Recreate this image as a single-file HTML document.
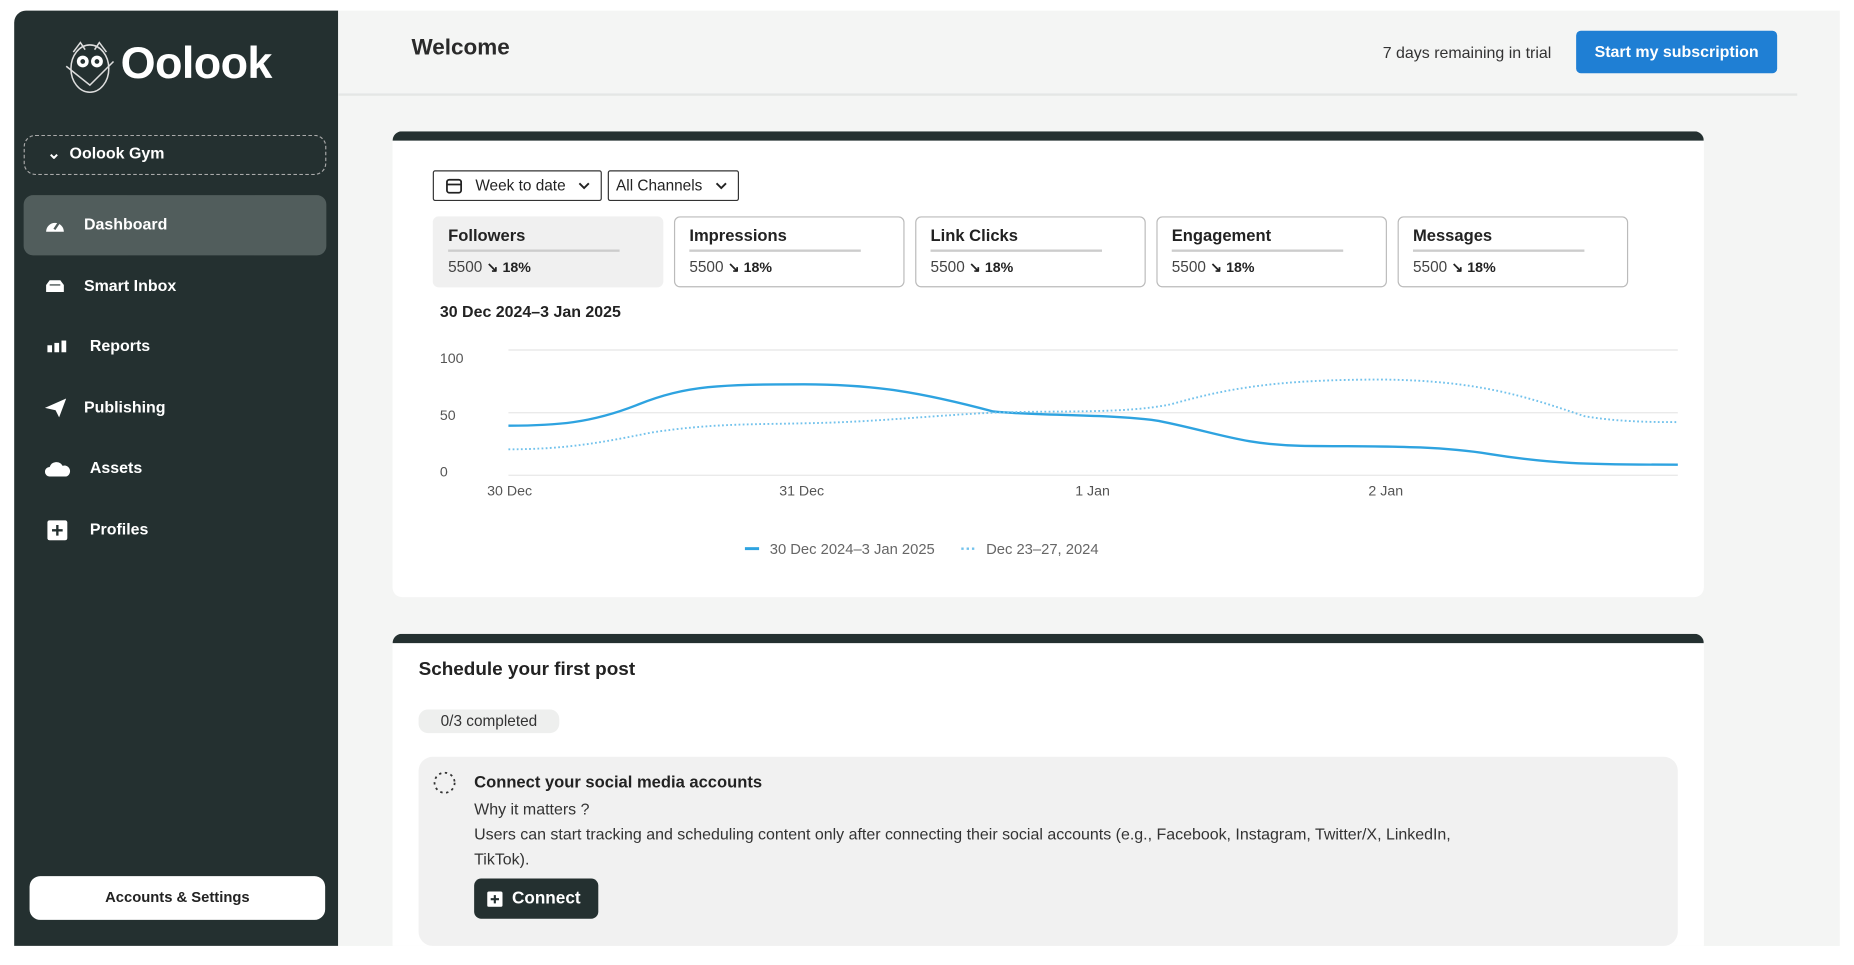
<!DOCTYPE html>
<html><head><meta charset="utf-8"><style>
html,body{margin:0;padding:0;background:#fff;width:1854px;height:965px;overflow:hidden}
#w{position:absolute;left:0;top:0;width:1568px;height:816px;transform:scale(1.1824);transform-origin:0 0;font-family:"Liberation Sans",sans-serif;color:#222}
.a{position:absolute}
#side{left:12px;top:9px;width:274px;height:791px;background:#243030;border-radius:10px 0 0 0}
#main{left:286px;top:9px;width:1270px;height:791px;background:#f4f5f4}
.mi{position:absolute;left:0;width:256px;height:20px;color:#fff;font-size:13.5px;font-weight:bold;line-height:20px}
.mi span{position:absolute;left:56px}
.card{background:#fff;border-radius:8px;border-top:8px solid #243030}
.dd{border:1px solid #333;border-radius:2px;height:24px;font-size:13px;line-height:24px;background:#fff}
.mc{position:absolute;top:183px;width:193px;height:58px;border:1px solid #bbb;border-radius:5px;background:#fff}
.mc b{position:absolute;left:12px;top:7px;font-size:14px}
.mc i{position:absolute;left:12px;top:27px;width:145px;height:2px;background:#ccc}
.mc span{position:absolute;left:12px;top:34px;font-size:13px;color:#444}
.mc span em{font-style:normal;font-weight:bold;color:#222;font-size:12px}
.yl{font-size:12px;color:#555}
</style></head><body><div id="w">
<div id="side" class="a">
  <svg class="a" style="left:42px;top:23px" width="50" height="50" viewBox="0 0 50 50"><g fill="none" stroke="#ddd" stroke-width="1.3"><ellipse cx="22" cy="26" rx="16" ry="20"/><path d="M8 12 L14 4 L18 10 M36 12 L30 4 L26 10 M2 24 L22 40 L42 20"/></g><circle cx="16" cy="20" r="5" fill="#fff"/><circle cx="28" cy="20" r="5" fill="#fff"/><circle cx="16" cy="20" r="2" fill="#243030"/><circle cx="28" cy="20" r="2" fill="#243030"/></svg>
  <div class="a" style="left:90px;top:24px;color:#fff;font-size:38px;font-weight:bold;letter-spacing:-0.5px">Oolook</div>
  <div class="a" style="left:8px;top:105px;width:254px;height:32px;border:1px dashed #aaa;border-radius:10px"></div>
  <div class="a" style="left:28px;top:113px;color:#fff;font-size:13.5px;font-weight:bold">⌄&nbsp; Oolook Gym</div>
  <div class="a" style="left:8px;top:156px;width:256px;height:51px;background:#515d5c;border-radius:8px"></div>
  <div class="mi" style="left:8px;top:171px"><svg class="a" style="left:18px;top:3px" width="17" height="14"><path d="M1 13 A7.5 7.5 0 1 1 16 13Z" fill="#fff"/><path d="M8 11 L12 5" stroke="#515d5c" stroke-width="2"/></svg><span style="left:51px">Dashboard</span></div>
  <div class="mi" style="left:8px;top:223px"><svg class="a" style="left:18px;top:4px" width="17" height="12"><path d="M1 11 L1 5 L4 1 L13 1 L16 5 L16 11Z" fill="#fff"/><path d="M4 5 L13 5" stroke="#243030"/></svg><span style="left:51px">Smart Inbox</span></div>
  <div class="mi" style="left:8px;top:274px"><svg class="a" style="left:20px;top:5px" width="18" height="10"><rect x="0" y="4" width="4" height="6" fill="#fff"/><rect x="6" y="2" width="4" height="8" fill="#fff"/><rect x="12" y="0" width="4" height="10" fill="#fff"/></svg><span>Reports</span></div>
  <div class="mi" style="left:8px;top:326px"><svg class="a" style="left:18px;top:2px" width="18" height="16"><path d="M0 8 L18 0 L12 16 L9 10Z" fill="#fff"/></svg><span style="left:51px">Publishing</span></div>
  <div class="mi" style="left:8px;top:377px"><svg class="a" style="left:18px;top:4px" width="22" height="13"><path d="M4 13 A4 4 0 0 1 4 5 A6 6 0 0 1 15 4 A4.5 4.5 0 0 1 18 13Z" fill="#fff"/></svg><span>Assets</span></div>
  <div class="mi" style="left:8px;top:429px"><svg class="a" style="left:20px;top:2px" width="17" height="17"><rect width="17" height="17" rx="2" fill="#fff"/><path d="M8.5 4 V13 M4 8.5 H13" stroke="#243030" stroke-width="2"/></svg><span>Profiles</span></div>
  <div class="a" style="left:13px;top:732px;width:250px;height:37px;background:#fff;border-radius:9px;text-align:center;line-height:37px;font-size:12.5px;font-weight:bold;color:#222">Accounts &amp; Settings</div>
</div>
<div id="main" class="a">
  <div class="a" style="left:62px;top:21px;font-size:19px;font-weight:bold;color:#2a2a2a">Welcome</div>
  <div class="a" style="left:800px;top:28px;width:226px;text-align:right;font-size:13.5px;color:#333">7 days remaining in trial</div>
  <div class="a" style="left:1047px;top:17px;width:170px;height:36px;background:#1f7fd4;border-radius:4px;color:#fff;font-size:13.5px;font-weight:bold;text-align:center;line-height:36px">Start my subscription</div>
  <div class="a" style="left:0;top:70px;width:1234px;height:2px;background:#e4e6e5"></div>
</div>
<div class="a card" style="left:332px;top:111px;width:1109px;height:386px"></div>
<div class="a dd" style="left:366px;top:144px;width:141px"><svg class="a" style="left:10px;top:5px" width="14" height="14"><rect x="1" y="2" width="12" height="11" rx="2" fill="none" stroke="#222" stroke-width="1.5"/><path d="M1 6 H13" stroke="#222" stroke-width="1.5"/></svg><span class="a" style="left:35px">Week to date</span><svg class="a" style="left:122px;top:9px" width="10" height="7"><path d="M1 1 L5 5 L9 1" fill="none" stroke="#222" stroke-width="1.6"/></svg></div>
<div class="a dd" style="left:514px;top:144px;width:109px"><span class="a" style="left:6px">All Channels</span><svg class="a" style="left:90px;top:9px" width="10" height="7"><path d="M1 1 L5 5 L9 1" fill="none" stroke="#222" stroke-width="1.6"/></svg></div>
<div class="mc" style="left:366px;background:#f0f0f0;border-color:#f0f0f0"><b>Followers</b><i></i><span>5500 <em>↘ 18%</em></span></div>
<div class="mc" style="left:570px"><b>Impressions</b><i></i><span>5500 <em>↘ 18%</em></span></div>
<div class="mc" style="left:774px"><b>Link Clicks</b><i></i><span>5500 <em>↘ 18%</em></span></div>
<div class="mc" style="left:978px"><b>Engagement</b><i></i><span>5500 <em>↘ 18%</em></span></div>
<div class="mc" style="left:1182px"><b>Messages</b><i></i><span>5500 <em>↘ 18%</em></span></div>
<div class="a" style="left:372px;top:256px;font-size:13.5px;font-weight:bold">30 Dec 2024–3 Jan 2025</div>
<div class="a yl" style="left:372px;top:296px">100</div>
<div class="a yl" style="left:372px;top:344px">50</div>
<div class="a yl" style="left:372px;top:392px">0</div>
<svg class="a" style="left:0;top:0" width="1568" height="816">
<g stroke="#eaeaea" stroke-width="1.2"><path d="M430 296 H1419 M430 349 H1419 M430 402 H1419"/></g>
<path d="M430 360 C470 360 500 358 540 342 C580 326 610 325 680 325 C740 325 780 332 840 348 C880 352 940 350 980 356 C1030 366 1050 376 1100 377 C1160 378 1210 376 1260 384 C1310 392 1340 393 1419 393" fill="none" stroke="#2ea3e0" stroke-width="2"/>
<path d="M430 380 C480 380 510 374 550 366 C600 358 640 359 680 358 C740 357 780 352 840 349 C900 347 950 350 990 342 C1040 328 1080 321 1170 321 C1250 322 1290 335 1340 352 C1370 357 1400 357 1419 357" fill="none" stroke="#72c2ec" stroke-width="1.6" stroke-dasharray="1.5 2"/>
<g font-size="12" fill="#555" font-family="Liberation Sans,sans-serif" text-anchor="middle"><text x="431" y="419">30 Dec</text><text x="678" y="419">31 Dec</text><text x="924" y="419">1 Jan</text><text x="1172" y="419">2 Jan</text></g>
<path d="M630 464 H642" stroke="#2ea3e0" stroke-width="2.5"/>
<path d="M813 464 H826" stroke="#72c2ec" stroke-width="2" stroke-dasharray="2 2.5"/>
<g font-size="12.5" fill="#666" font-family="Liberation Sans,sans-serif"><text x="651" y="468.5">30 Dec 2024–3 Jan 2025</text><text x="834" y="468.5">Dec 23–27, 2024</text></g>
</svg>
<div class="a card" style="left:332px;top:536px;width:1109px;height:256px;border-radius:8px 8px 0 0"></div>
<div class="a" style="left:354px;top:558px;font-size:16px;font-weight:bold">Schedule your first post</div>
<div class="a" style="left:354px;top:600px;width:119px;height:20px;background:#eeefee;border-radius:8px;font-size:13px;line-height:20px;text-align:center;color:#333">0/3 completed</div>
<div class="a" style="left:354px;top:640px;width:1065px;height:160px;background:#f1f1f1;border-radius:12px"></div>
<svg class="a" style="left:365px;top:651px" width="22" height="22"><circle cx="11" cy="11" r="8.5" fill="none" stroke="#333" stroke-width="1.5" stroke-dasharray="2 3"/></svg>
<div class="a" style="left:401px;top:653px;font-size:14px;font-weight:bold">Connect your social media accounts</div>
<div class="a" style="left:401px;top:674px;font-size:13.5px;color:#333;line-height:21px">Why it matters ?<br>Users can start tracking and scheduling content only after connecting their social accounts (e.g., Facebook, Instagram, Twitter/X, LinkedIn,<br>TikTok).</div>
<div class="a" style="left:401px;top:743px;width:105px;height:34px;background:#243030;border-radius:6px;color:#fff;font-size:14.5px;font-weight:bold;line-height:34px"><svg class="a" style="left:11px;top:11px" width="13" height="13"><rect width="13" height="13" rx="1.5" fill="#fff"/><path d="M6.5 3 V10 M3 6.5 H10" stroke="#243030" stroke-width="1.8"/></svg><span class="a" style="left:32px">Connect</span></div>
</div></body></html>
